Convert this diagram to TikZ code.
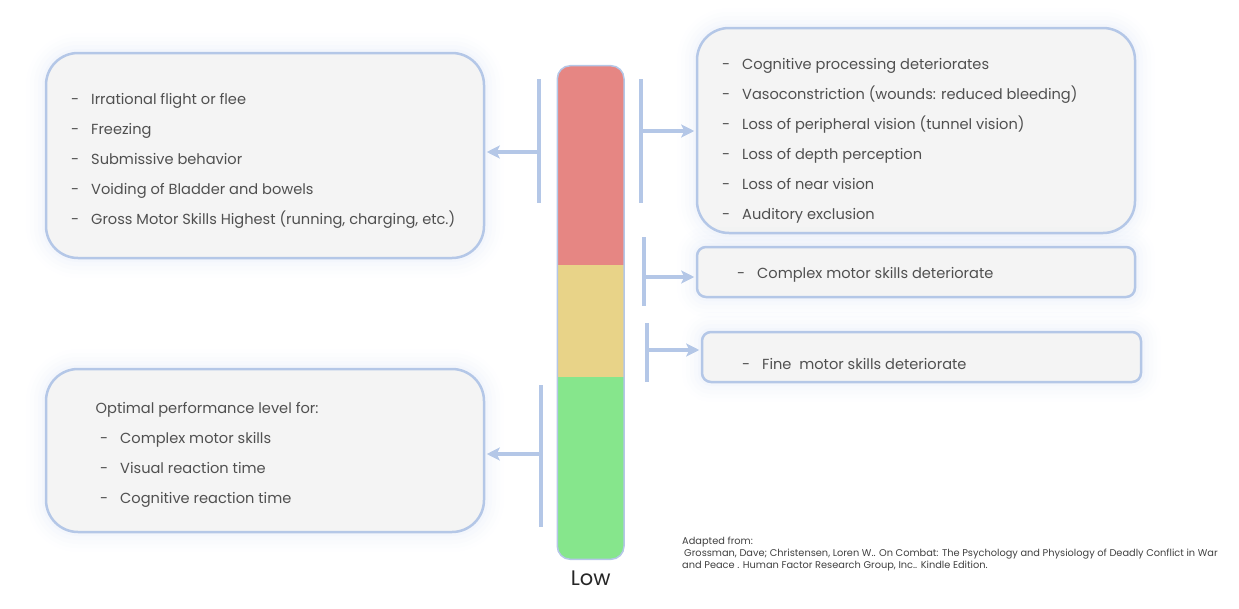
\documentclass[tikz,border=0pt]{standalone}
\usepackage{fontspec}
\setmainfont{Poppins}
\usetikzlibrary{arrows.meta,positioning}
\definecolor{edge}{HTML}{B4C7E7}
\definecolor{glow}{HTML}{C3D2EE}
\definecolor{boxfill}{HTML}{F4F4F4}
\definecolor{txt}{HTML}{505050}
\definecolor{hot}{HTML}{E68683}
\definecolor{warm}{HTML}{E8D388}
\definecolor{calm}{HTML}{86E68C}
\newcommand{\itm}[1]{\makebox[20pt][l]{-}#1}
\begin{document}
\begin{tikzpicture}[x=1pt,y=-1pt,
  panel/.style={draw=edge,line width=2.5pt,fill=boxfill,inner sep=0pt,rounded corners=#1,
    preaction={draw=glow,line width=40pt,opacity=0.025},
    preaction={draw=glow,line width=32pt,opacity=0.03},
    preaction={draw=glow,line width=24pt,opacity=0.04},
    preaction={draw=glow,line width=16pt,opacity=0.05},
    preaction={draw=glow,line width=8pt,opacity=0.07}},
  panel/.default=32pt,
  bracket/.style={draw=edge,line width=4pt},
  link/.style={draw=edge,line width=4.5pt,-{Stealth[length=13pt,width=13pt,inset=3pt]},shorten >=1.5pt},
  item/.style={text=txt,font=\fontsize{14.6}{18}\selectfont,anchor=base west,inner sep=0pt}]
\useasboundingbox (0,0) rectangle (1239,608);

\node[panel,minimum width=438pt,minimum height=205pt] (panic) at (265,155.5) {};
\node[panel,minimum width=438pt,minimum height=163pt] (calmbox) at (265,450.5) {};
\node[panel,minimum width=438pt,minimum height=205pt] (stress) at (916,130.5) {};
\node[panel=9pt,minimum width=438pt,minimum height=50pt] (complex) at (916,272) {};
\node[panel=9pt,minimum width=439pt,minimum height=50pt] (fine) at (921.5,357) {};

\begin{scope}
\clip[rounded corners=13pt] (557.3,65.7) rectangle (624,559.3);
\fill[hot] (557.3,65.7) rectangle (624,265);
\fill[warm] (557.3,265) rectangle (624,376.7);
\fill[calm] (557.3,376.7) rectangle (624,559.3);
\end{scope}
\node[draw=edge,line width=1.5pt,rounded corners=13pt,minimum width=66.7pt,minimum height=493.6pt] (gauge) at (590.65,312.5) {};
\node[below=11pt of gauge,inner sep=0pt,text=black!85,font=\fontsize{21}{24}\selectfont] (low) {Low};

\draw[bracket] (538.5,79) -- (538.5,203);
\draw[bracket] (641,79) -- (641,203);
\draw[bracket] (643.5,237) -- (643.5,306);
\draw[bracket] (647,323) -- (647,382);
\draw[bracket] (541,385) -- (541,527);
\draw[link] (538.5,152) -- (panic.east |- 0,152);
\draw[link] (643,131) -- (stress.west |- 0,131);
\draw[link] (645.5,277) -- (complex.west |- 0,277);
\draw[link] (649,350) -- (fine.west |- 0,350);
\draw[link] (541,454) -- (calmbox.east |- 0,454);

\foreach \t [count=\i from 0] in {Irrational flight or flee, Freezing, Submissive behavior,
  Voiding of Bladder and bowels, {Gross Motor Skills Highest (running, charging, etc.)}}
  \node[item] (p\i) at (71,{104+30*\i}) {\itm{\t}};
\foreach \t [count=\i from 0] in {Cognitive processing deteriorates,
  {Vasoconstriction (wounds: reduced bleeding)}, {Loss of peripheral vision (tunnel vision)},
  Loss of depth perception, Loss of near vision, Auditory exclusion}
  \node[item] (s\i) at (722,{69+30*\i}) {\itm{\t}};
\node[item] (c0) at (737,278) {\itm{Complex motor skills deteriorate}};
\node[item] (m0) at (742,369) {\itm{Fine\ \ motor skills deteriorate}};
\node[item] (o0) at (95.5,413) {Optimal performance level for:};
\foreach \t [count=\i from 0] in {Complex motor skills, Visual reaction time, Cognitive reaction time}
  \node[item] (o\i) at (100,{443+30*\i}) {\itm{\t}};

\node[anchor=north west,align=left,inner sep=0pt,text=black!75,font=\fontsize{9.8}{12}\selectfont] (cite) at (682,536.5)
  {Adapted from:\\
   \hspace*{2pt}Grossman, Dave; Christensen, Loren W.. On Combat: The Psychology and Physiology of Deadly Conflict in War\\
   and Peace . Human Factor Research Group, Inc.. Kindle Edition.};
\end{tikzpicture}
\end{document}
